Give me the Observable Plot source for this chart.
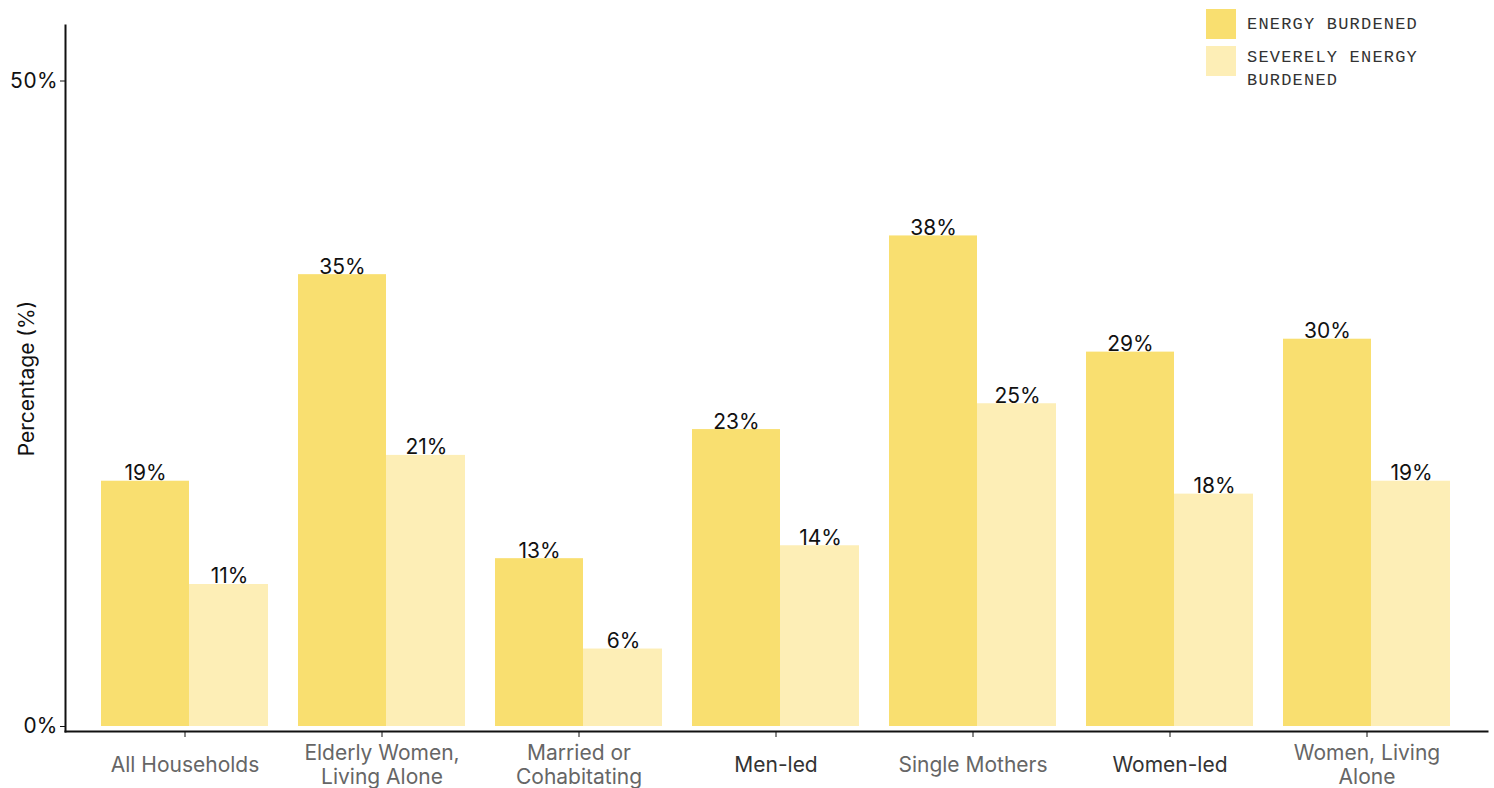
<!DOCTYPE html>
<html>
<head>
<meta charset="utf-8">
<script src="https://cdn.jsdelivr.net/npm/d3@7"></script>
<script src="https://cdn.jsdelivr.net/npm/@observablehq/plot@0.6"></script>
<style>
  html, body { margin: 0; padding: 0; background: #fff; }
  #wrap { position: relative; width: 1494px; height: 788px; }
  #legend { position: absolute; left: 1206px; top: 9px; font-family: "Liberation Mono", "DejaVu Sans Mono", monospace; font-size: 17px; color: #333; letter-spacing: 1.2px; }
  .item { display: flex; align-items: flex-start; margin-bottom: 7px; }
  .sw { width: 30px; height: 30px; flex: none; margin-right: 11px; }
  .lab { line-height: 23px; width: 185px; }
</style>
</head>
<body>
<div id="wrap"><div id="legend"></div></div>
<script>
const categories = ["All Households", "Elderly Women, Living Alone", "Married or Cohabitating", "Men-led", "Single Mothers", "Women-led", "Women, Living Alone"];
const categoryLabels = ["All Households", "Elderly Women,\nLiving Alone", "Married or\nCohabitating", "Men-led", "Single Mothers", "Women-led", "Women, Living\nAlone"];
const emphasized = ["Men-led", "Women-led"];
const energyBurdened = [19, 35, 13, 23, 38, 29, 30];
const severelyBurdened = [11, 21, 6, 14, 25, 18, 19];
const seriesNames = ["ENERGY BURDENED", "SEVERELY ENERGY BURDENED"];
const seriesColors = ["#F9DF70", "#FDEEB6"];
const yTicks = [0, 50];

const rowsA = categories.map((c, i) => ({category: c, value: energyBurdened[i]}));
const rowsB = categories.map((c, i) => ({category: c, value: severelyBurdened[i]}));
const labelRows = categories.map((c, i) => ({category: c, label: categoryLabels[i], strong: emphasized.includes(c)}));

const chart = Plot.plot({
  width: 1494,
  height: 788,
  marginLeft: 65,
  marginRight: 7,
  marginTop: 25,
  marginBottom: 57,
  insetBottom: 5,
  style: {fontFamily: "Inter, 'Noto Sans', sans-serif", fontSize: "20px", background: "#fff"},
  x: {domain: categories, paddingInner: 0.15, paddingOuter: 0.172},
  y: {domain: [0, 54.3]},
  marks: [
    Plot.barY(rowsB, {x: "category", y: "value", fill: seriesColors[1], insetLeft: 86}),
    Plot.barY(rowsA, {x: "category", y: "value", fill: seriesColors[0], insetRight: 79}),
    Plot.text(rowsA, {x: "category", y: "value", text: d => d.value + "%", dx: -39.5, dy: -1, lineAnchor: "bottom", fontSize: 21, fill: "#111"}),
    Plot.text(rowsB, {x: "category", y: "value", text: d => d.value + "%", dx: 44.5, dy: -1, lineAnchor: "bottom", fontSize: 21, fill: "#111"}),
    Plot.axisY({ticks: yTicks, tickFormat: d => d + "%", tickSize: 5, tickPadding: 3, fontSize: 21, color: "#111", label: "Percentage (%)", labelAnchor: "center", labelArrow: "none", labelOffset: 46}),
    Plot.axisX({tickSize: 6, tickFormat: () => "", label: null, color: "#111"}),
    Plot.text(labelRows.filter(d => !d.strong), {x: "category", text: "label", frameAnchor: "bottom", dy: 33, lineAnchor: "middle", lineHeight: 1.15, fontSize: 21, fill: "#666"}),
    Plot.text(labelRows.filter(d => d.strong), {x: "category", text: "label", frameAnchor: "bottom", dy: 33, lineAnchor: "middle", lineHeight: 1.15, fontSize: 21, fill: "#333"}),
    Plot.frame({anchor: "left", stroke: "#111", strokeWidth: 2}),
    Plot.frame({anchor: "bottom", stroke: "#111", strokeWidth: 2})
  ]
});
document.getElementById("wrap").prepend(chart);

const legend = document.getElementById("legend");
seriesNames.forEach((name, i) => {
  const item = document.createElement("div");
  item.className = "item";
  const sw = document.createElement("div");
  sw.className = "sw";
  sw.style.background = seriesColors[i];
  const lab = document.createElement("div");
  lab.className = "lab";
  lab.textContent = name;
  lab.style.paddingTop = i === 0 ? "4px" : "0px";
  item.append(sw, lab);
  legend.append(item);
});
</script>
</body>
</html>
